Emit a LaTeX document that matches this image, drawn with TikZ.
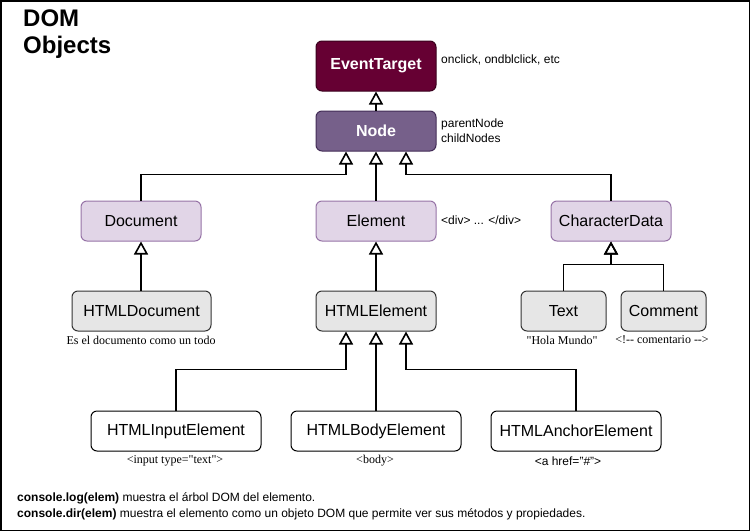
\documentclass[tikz,border=0pt]{standalone}
\usepackage{fontspec}
\setmainfont{Liberation Sans}
\newfontfamily\capfont{Liberation Serif}
\usetikzlibrary{arrows.meta}

\definecolor{evfill}{HTML}{660033}
\definecolor{evline}{HTML}{3A001D}
\definecolor{ndfill}{HTML}{76608A}
\definecolor{ndline}{HTML}{432D57}
\definecolor{lpfill}{HTML}{E1D5E7}
\definecolor{lpline}{HTML}{9673A6}
\definecolor{grfill}{HTML}{E6E6E6}
\definecolor{grline}{HTML}{333333}

\begin{document}
\begin{tikzpicture}[x=1pt, y=-1pt,
    box/.style={rounded corners=6pt, line width=1pt, minimum height=40pt,
        minimum width=120pt, inner sep=0pt, font=\fontsize{16}{19}\selectfont},
    darkbox/.style={box, draw=evline, fill=evfill, text=white, font=\fontsize{16}{19}\selectfont\bfseries},
    midbox/.style={box, draw=ndline, fill=ndfill, text=white, font=\fontsize{16}{19}\selectfont\bfseries},
    lilac/.style={box, draw=lpline, fill=lpfill},
    greybox/.style={box, draw=grline, fill=grfill},
    plain/.style={box, draw=black, fill=white, minimum width=170pt},
    note/.style={anchor=west, inner sep=0pt, font=\fontsize{12}{15}\selectfont, align=left},
    caption/.style={inner sep=0pt, font=\capfont\fontsize{12}{15}\selectfont},
    inherit/.style={line width=1.6pt, -{Triangle[open, length=13pt, width=14pt]}}]

    % Frame of the picture
    \useasboundingbox (0,0) rectangle (750,531);
    \draw[line width=1.5pt] (0.75,0.75) rectangle (749.25,530.25);

    % Title
    \node[anchor=north west, inner sep=0pt, align=left,
        font=\fontsize{24}{27}\selectfont\bfseries] (title) at (23,10) {DOM\\Objects};

    % Top of the hierarchy
    \node[darkbox, minimum height=50pt] (evt) at (376,66) {EventTarget};
    \node[midbox] (nd) at (376,131) {Node};

    % Second level
    \node[lilac] (doc) at (141,221) {Document};
    \node[lilac] (elm) at (376,221) {Element};
    \node[lilac] (chd) at (611,221) {CharacterData};

    % Third level
    \node[greybox, minimum width=139pt] (hdoc) at (141.5,311) {HTMLDocument};
    \node[greybox] (hel) at (376,311) {HTMLElement};
    \node[greybox, minimum width=85pt] (txt) at (563.5,311) {Text};
    \node[greybox, minimum width=85pt] (cmt) at (663.5,311) {Comment};

    % Fourth level
    \node[plain] (inp) at (176,431) {HTMLInputElement};
    \node[plain] (bdy) at (376,431) {HTMLBodyElement};
    \node[plain] (anc) at (576,431) {HTMLAnchorElement};

    % Notes beside the boxes
    \node[note] (evtnote) at (441,60) {onclick, ondblclick, etc};
    \node[note] (ndnote) at (441,130.5) {parentNode\\childNodes};
    \node[note] (elmnote) at (441,220) {<div> ... </div>};

    % Captions under the boxes
    \node[caption] (hdoccap) at (141,340) {Es el documento como un todo};
    \node[caption] (txtcap) at (562,340) {"Hola Mundo"};
    \node[caption] (cmtcap) at (662,340) {<!-- comentario -->};
    \node[caption] (inpcap) at (175,461) {<input type="text">};
    \node[caption] (bdycap) at (375,461) {<body>};
    \node[inner sep=0pt, font=\fontsize{12}{15}\selectfont] (anccap) at (568,461) {<a href="\#">};

    % Inheritance arrows
    \draw[inherit] (nd.north) -- (evt.south);
    \draw[inherit] (doc.north) -- ++(0,-26) -| ([xshift=-30pt]nd.south);
    \draw[inherit] (elm.north) -- (nd.south);
    \draw[inherit] (chd.north) -- ++(0,-26) -| ([xshift=30pt]nd.south);
    \draw[inherit] (hdoc.north -| doc.south) -- (doc.south);
    \draw[inherit] (hel.north) -- (elm.south);
    \draw[inherit] (txt.north) -- ++(0,-26) -| (chd.south);
    \draw[inherit] (cmt.north) -- ++(0,-26) -| (chd.south);
    \draw[inherit] (inp.north) -- ++(0,-41) -| ([xshift=-30pt]hel.south);
    \draw[inherit] (bdy.north) -- (hel.south);
    \draw[inherit] (anc.north) -- ++(0,-41) -| ([xshift=30pt]hel.south);

    % Text at the bottom
    \node[note, anchor=base west] (logline) at (17,501)
        {\textbf{console.log(elem)} muestra el árbol DOM del elemento.};
    \node[note, anchor=base west] (dirline) at (17,517)
        {\textbf{console.dir(elem)} muestra el elemento como un objeto DOM que permite ver sus métodos y propiedades.};
\end{tikzpicture}
\end{document}
